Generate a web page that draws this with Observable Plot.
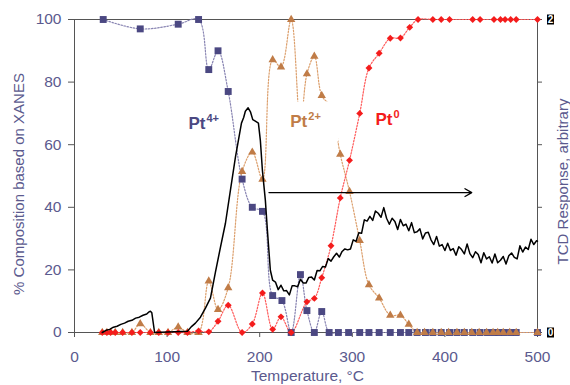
<!DOCTYPE html>
<html><head><meta charset="utf-8">
<script src="https://cdn.jsdelivr.net/npm/d3@7"></script>
<script src="https://cdn.jsdelivr.net/npm/@observablehq/plot@0.6"></script>
<style>body{margin:0;background:#fff}</style>
</head><body><div id="chart"></div>
<script>
// ---- XANES composition (%) ----
const pt4Temp = [31, 71, 112, 134, 145, 155, 166, 181, 192, 203, 214, 224, 234, 244, 251, 259, 267, 275, 285, 296, 308, 318, 329, 341, 352, 361, 370, 379, 387, 396, 405, 413, 421, 430, 438, 446, 453, 458, 464, 471, 477, 500];
const pt4Val  = [100, 97, 98.5, 100, 84, 90, 77, 49, 40, 38.7, 11.8, 10.2, 0, 18.5, 7, 0, 6.7, 0, 0, 0, 0, 0, 0, 0, 0, 0, 0, 0, 0, 0, 0, 0, 0, 0, 0, 0, 0, 0, 0, 0, 0, 0];

const pt2Temp = [30, 35, 39, 44, 52, 62, 71, 82, 91, 101, 112, 122, 134, 145, 155, 166, 181, 192, 203, 214, 223, 234, 244, 251, 259, 267, 277, 287, 297, 308, 318, 329, 341, 352, 361, 370, 378, 387, 396, 404, 413, 421, 429, 437, 445, 452, 457, 463, 470, 477, 500];
const pt2Val  = [0, 0, 0, 0, 0, 0, 2.8, 0, 0, 0, 1.7, 0, 0, 16.4, 7.3, 14.3, 51.4, 57.6, 48.9, 87.1, 84.8, 100, 66, 82.6, 88.2, 75.7, 72, 56.9, 45, 29.4, 15.2, 11, 5.5, 5.5, 2.6, 0, 0, 0, 0, 0, 0, 0, 0, 0, 0, 0, 0, 0, 0, 0, 0];

const pt0Temp = [30, 35, 39, 44, 52, 62, 71, 82, 91, 101, 112, 122, 134, 145, 155, 166, 181, 192, 203, 214, 223, 234, 251, 259, 267, 277, 287, 297, 308, 318, 329, 341, 352, 362, 371, 387, 396, 405, 430, 438, 453, 460, 465, 471, 477, 500];
const pt0Val  = [0, 0, 0, 0, 0, 0, 0, 0, 0, 0, 0, 0, 0.5, 0.2, 3.6, 8.7, 0, 2.7, 12.6, 1, 5, 0, 9.8, 10.9, 17.5, 27.7, 43, 55, 70, 84.5, 89.2, 94, 94.1, 97.5, 100, 100, 100, 100, 100, 100, 100, 100, 100, 100, 100, 100];

// ---- TCD response (arbitrary units, right axis 0..2) ----
const tcdTemp = [30, 34, 38, 42, 46, 50, 54, 58, 62, 66, 70, 74, 78, 80, 82, 83.5, 86.5, 122,
  126, 130.6, 136, 141.4, 146.8, 152.2, 157.6, 163, 168.4, 173.8, 180.3, 182.7, 184.5, 187.5, 190, 192.5, 195.3, 198.6, 200.7, 202.9, 206.1, 208.3, 209.9, 211.5, 214,
  217, 220, 223, 226, 229, 232, 235, 238, 241, 244, 247, 250, 253, 256, 259, 262, 265, 268, 271, 274, 277, 280, 283, 286, 289, 292, 295, 298, 301, 304, 307, 310, 313, 316, 319, 322, 325, 328, 331, 334, 337, 340, 343, 346, 349, 352, 355, 358, 361, 364, 367, 370, 373, 376, 379, 382, 385, 388, 391, 394, 397, 400, 403, 406, 409, 412, 415, 418, 421, 424, 427, 430, 433, 436, 439, 442, 445, 448, 451, 454, 457, 460, 463, 466, 469, 472, 475, 478, 481, 484, 487, 490, 493, 496, 499, 500];
const tcdVal = [0, 0.014, 0.02, 0.034, 0.04, 0.052, 0.06, 0.072, 0.078, 0.092, 0.098, 0.11, 0.118, 0.13, 0.136, 0.126, 0, 0.008,
  0.036, 0.06, 0.098, 0.156, 0.22, 0.386, 0.544, 0.698, 0.91, 1.12, 1.338, 1.374, 1.414, 1.436, 1.41, 1.36, 1.35, 1.338, 1.228, 1.038, 0.846, 0.654, 0.526, 0.398, 0.334,
  0.322, 0.274, 0.302, 0.266, 0.268, 0.24, 0.298, 0.298, 0.292, 0.34, 0.316, 0.316, 0.352, 0.354, 0.336, 0.396, 0.394, 0.422, 0.418, 0.472, 0.456, 0.484, 0.506, 0.482, 0.518, 0.534, 0.528, 0.534, 0.592, 0.582, 0.638, 0.634, 0.72, 0.712, 0.742, 0.716, 0.776, 0.762, 0.736, 0.798, 0.73, 0.692, 0.73, 0.71, 0.658, 0.722, 0.682, 0.692, 0.65, 0.702, 0.638, 0.644, 0.662, 0.598, 0.636, 0.64, 0.592, 0.562, 0.614, 0.552, 0.562, 0.524, 0.57, 0.524, 0.536, 0.494, 0.548, 0.53, 0.502, 0.566, 0.504, 0.478, 0.516, 0.498, 0.446, 0.51, 0.47, 0.484, 0.444, 0.502, 0.446, 0.462, 0.486, 0.438, 0.49, 0.508, 0.48, 0.47, 0.554, 0.514, 0.546, 0.53, 0.596, 0.562, 0.586, 0.584];

// ---- ticks and labels ----
const xTicks = [0, 100, 200, 300, 400, 500];
const yTicks = [0, 20, 40, 60, 80, 100];
const rightTicks = [0, 0.4, 0.8, 1.2, 1.6, 2];
const rightLabelValues = [0, 2];
const seriesNames = ["Pt", "Pt", "Pt"];
const seriesSup = ["4+", "2+", "0"];
const labelTemp = [123, 233, 325];
const labelPct = [65.1, 65.8, 66.2];
const labelHasBox = [false, true, false];
const arrowNote = [{from: 210, to: 429, tcd: 0.894}];

// ---- styles ----
const c4 = "#4b4882", c4l = "#8884b2";
const c2 = "#c07c47", c2l = "#dc9f6c";
const c0 = "#f41c1c", c0l = "#ff5a5a";
const axisText = "#5b5a8e";
const K = 50; // right axis: 2 units == 100 %

const rows = (T, V) => T.map((t, i) => ({t, v: V[i]}));
const pt4 = rows(pt4Temp, pt4Val);
const pt2 = rows(pt2Temp, pt2Val);
const pt0 = rows(pt0Temp, pt0Val);
const tcd = rows(tcdTemp, tcdVal);
const labels = seriesNames.map((n, i) => ({n, s: seriesSup[i], t: labelTemp[i], v: labelPct[i], c: [c4, c2, c0][i], box: labelHasBox[i]}));
const rightBoxes = rightLabelValues.map(v => ({v, s: String(v)}));
const boxSymbol = {draw(ctx) { ctx.rect(-3.5, -5, 7, 10); }};
const labelBgSymbol = {draw(ctx) { ctx.rect(-2, -25, 50, 40); }};
const dash = "1.5,1.6";

const chart = Plot.plot({
  width: 570, height: 385,
  marginLeft: 74, marginRight: 33, marginTop: 19, marginBottom: 53,
  style: {fontFamily: "'Liberation Sans', Arial, sans-serif", background: "#fff"},
  x: {domain: [0, 500]},
  y: {domain: [0, 100]},
  marks: [
    Plot.frame({stroke: "#555"}),
    Plot.axisX(xTicks, {anchor: "bottom", tickSize: 5, tickPadding: 13, fontSize: 15.5, stroke: "#555", fill: axisText, label: null}),
    Plot.axisY(yTicks, {anchor: "left", tickSize: 6, tickPadding: 7, fontSize: 15.5, stroke: "#555", fill: axisText, label: null}),
    Plot.axisY(rightTicks.map(d => d * K), {anchor: "right", tickSize: 4, tickFormat: () => "", stroke: "#555", label: null}),
    Plot.text(["% Composition based on XANES"], {frameAnchor: "left", textAnchor: "middle", lineAnchor: "middle", dx: -55.5, dy: 8, rotate: -90, fontSize: 15, fill: axisText}),
    Plot.text(["Temperature, °C"], {frameAnchor: "bottom", textAnchor: "middle", lineAnchor: "middle", dx: 1.5, dy: 44, fontSize: 15.5, fill: axisText}),
    Plot.text(["TCD Response, arbitrary"], {frameAnchor: "right", textAnchor: "middle", lineAnchor: "middle", dx: 25.5, dy: 5.5, rotate: -90, fontSize: 15, fill: axisText}),
    // dotted smoothed connecting lines
    Plot.line(pt4, {x: "t", y: "v", curve: "catmull-rom", stroke: c4l, strokeWidth: 1.2, strokeDasharray: dash}),
    Plot.line(pt2, {x: "t", y: "v", curve: "catmull-rom", stroke: c2l, strokeWidth: 1.2, strokeDasharray: dash}),
    Plot.line(pt0, {x: "t", y: "v", curve: "catmull-rom", stroke: c0l, strokeWidth: 1.2, strokeDasharray: dash}),
    // markers
    Plot.dot(pt4, {x: "t", y: "v", symbol: "square", r: 3.9, fill: c4, stroke: "none"}),
    Plot.dot(pt2, {x: "t", y: "v", symbol: "triangle", r: 3.1, fill: c2, stroke: "none"}),
    Plot.dot(pt0, {x: "t", y: "v", symbol: "diamond2", r: 3.1, fill: c0, stroke: "none"}),
    // TCD trace (secondary axis)
    Plot.line(tcd, {x: "t", y: d => d.v * K, stroke: "#000", strokeWidth: 1.5}),
    Plot.arrow(arrowNote, {x1: "from", x2: "to", y1: d => d.tcd * K, y2: d => d.tcd * K, stroke: "#000", strokeWidth: 1.3, headLength: 9}),
    // species labels (the Pt2+ label sits on a white text box)
    Plot.dot(labels.filter(d => d.box), {x: "t", y: "v", symbol: labelBgSymbol, fill: "#fff", stroke: "none"}),
    Plot.text(labels, {x: "t", y: "v", text: "n", fill: "c", fontSize: 17, fontWeight: "bold", textAnchor: "start", lineAnchor: "bottom"}),
    Plot.text(labels, {x: "t", y: "v", text: "s", fill: "c", fontSize: 11, fontWeight: "bold", textAnchor: "start", lineAnchor: "bottom", dx: 18, dy: -7}),
    // right-axis end labels in black boxes
    Plot.dot(rightBoxes, {x: () => 500, y: d => d.v * K, symbol: boxSymbol, fill: "#000", stroke: "none", dx: 13}),
    Plot.text(rightBoxes, {x: () => 500, y: d => d.v * K, text: "s", fill: "#fff", fontSize: 10, fontWeight: "bold", dx: 13})
  ]
});
document.getElementById("chart").appendChild(chart);
</script>
</body></html>
